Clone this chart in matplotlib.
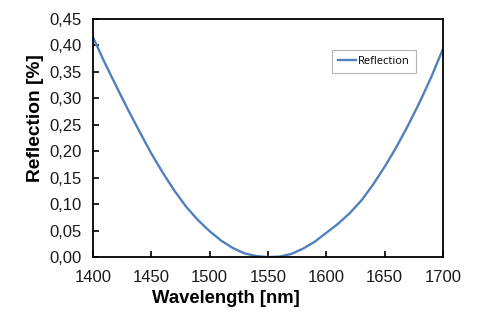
import matplotlib
matplotlib.use('Agg')
import matplotlib.pyplot as plt
from matplotlib.ticker import FuncFormatter

# values
wavelength = [1400, 1410, 1420, 1430, 1440, 1450, 1460, 1470, 1480, 1490,
              1500, 1510, 1520, 1530, 1540, 1550, 1560, 1570, 1580, 1590,
              1600, 1610, 1620, 1630, 1640, 1650, 1660, 1670, 1680, 1690,
              1700]
reflection = [0.416, 0.368, 0.323, 0.279, 0.237, 0.196, 0.159, 0.125, 0.095, 0.070,
              0.049, 0.031, 0.017, 0.007, 0.002, 0.000, 0.001, 0.006, 0.016, 0.029,
              0.046, 0.063, 0.083, 0.107, 0.137, 0.171, 0.208, 0.249, 0.293, 0.341,
              0.394]

x_ticks = [1400, 1450, 1500, 1550, 1600, 1650, 1700]
y_ticks = [0.0, 0.05, 0.10, 0.15, 0.20, 0.25, 0.30, 0.35, 0.40, 0.45]

plt.rcParams['font.family'] = ['Liberation Sans', 'DejaVu Sans']

fig = plt.figure(figsize=(4.94, 3.21), dpi=100)
ax = fig.add_axes([0.188, 0.199, 0.709, 0.742])

ax.plot(wavelength, reflection, color='#4F81BD', linewidth=1.7, label='Reflection',
        solid_joinstyle='round')

ax.set_xlim(1400, 1700)
ax.set_ylim(0, 0.45)
ax.set_xticks(x_ticks)
ax.set_yticks(y_ticks)
ax.yaxis.set_major_formatter(FuncFormatter(lambda v, p: f'{v:.2f}'.replace('.', ',')))
ax.tick_params(direction='in', length=4, width=1.2, labelsize=12, colors='black',
               labelcolor='#1a1a1a')
ax.tick_params(axis='x', pad=9)
ax.tick_params(axis='y', pad=8)
for s in ax.spines.values():
    s.set_linewidth(1.3)

ax.set_xlabel('Wavelength [nm]', fontsize=13.3, fontweight='bold')
ax.set_ylabel('Reflection [%]', fontsize=13.8, fontweight='bold')
ax.xaxis.set_label_coords(0.38, -0.14)
ax.yaxis.set_label_coords(-0.14, 0.585)

leg = ax.legend(loc='upper right', bbox_to_anchor=(0.923, 0.87), borderaxespad=0,
                fancybox=False, handlelength=1.6, handletextpad=0.2,
                borderpad=0.55, prop={'family': 'Open Sans', 'size': 8})
leg.get_frame().set_edgecolor('#A0A0A0')
leg.get_frame().set_linewidth(0.8)

fig.savefig('out.png', dpi=100)
